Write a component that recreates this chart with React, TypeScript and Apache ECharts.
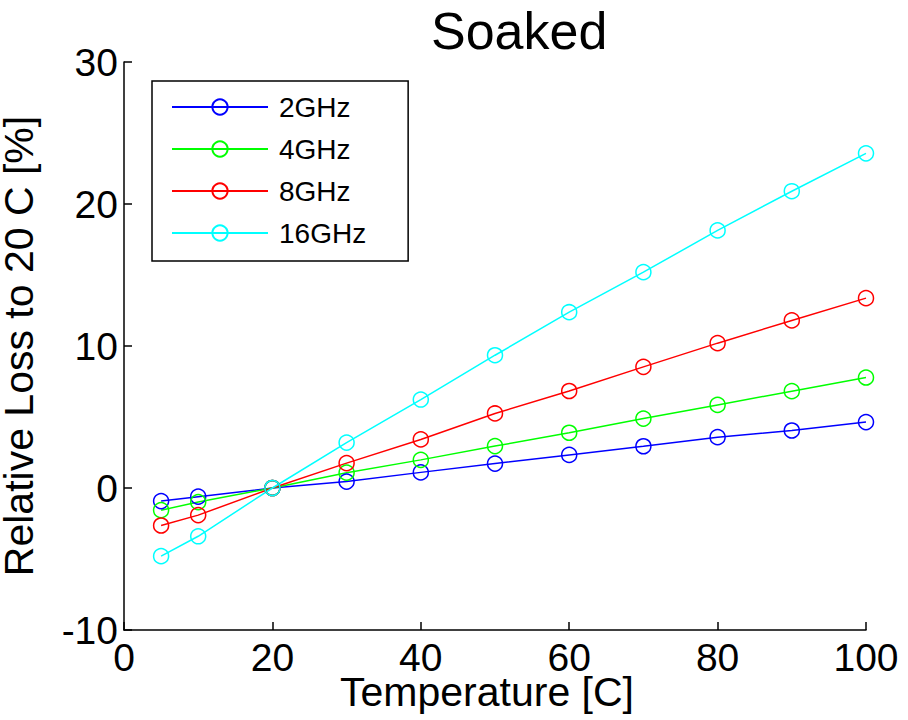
import React, { useEffect, useRef } from "react";
import * as echarts from "echarts";

const temperatures = [5, 10, 20, 30, 40, 50, 60, 70, 80, 90, 100];
const seriesNames = ["2GHz", "4GHz", "8GHz", "16GHz"];
const seriesColors = ["#0000ff", "#00ff00", "#ff0000", "#00ffff"];
const loss2GHz = [-0.92, -0.61, 0, 0.45, 1.1, 1.72, 2.33, 2.94, 3.58, 4.05, 4.64];
const loss4GHz = [-1.56, -0.99, 0, 1.08, 1.98, 2.95, 3.89, 4.89, 5.85, 6.82, 7.78];
const loss8GHz = [-2.64, -1.91, 0, 1.75, 3.42, 5.25, 6.83, 8.53, 10.2, 11.8, 13.37];
const loss16GHz = [-4.8, -3.4, 0, 3.2, 6.23, 9.35, 12.38, 15.2, 18.14, 20.9, 23.57];
const seriesValues = [loss2GHz, loss4GHz, loss8GHz, loss16GHz];

const FONT = '"Liberation Sans", Arial, Helvetica, sans-serif';

export default function App() {
  const ref = useRef<HTMLDivElement>(null);
  useEffect(() => {
    if (!ref.current) return;
    const chart = echarts.init(ref.current, undefined, { renderer: "svg" });
    chart.setOption({
      animation: false,
      backgroundColor: "#ffffff",
      textStyle: { fontFamily: FONT, color: "#000" },
      title: {
        text: "Soaked",
        left: 431,
        top: 5,
        padding: 0,
        textStyle: { fontFamily: FONT, fontSize: 52, fontWeight: "normal", color: "#000" },
      },
      legend: {
        orient: "vertical",
        left: 152,
        top: 81,
        padding: [12, 42, 14, 19],
        itemGap: 14,
        itemWidth: 96,
        itemHeight: 19,
        borderColor: "#000",
        borderWidth: 1.5,
        backgroundColor: "#fff",
        textStyle: { fontFamily: FONT, fontSize: 28, color: "#000", padding: [0, 0, 0, 6] },
        data: seriesNames,
      },
      grid: { left: 124, right: 42, top: 62, bottom: 90, outerBoundsMode: "none", containLabel: false },
      xAxis: {
        type: "value",
        min: 0,
        max: 100,
        interval: 20,
        name: "Temperature [C]",
        nameLocation: "middle",
        nameGap: 45,
        nameMoveOverlap: false,
        nameTextStyle: { fontFamily: FONT, fontSize: 41, lineHeight: 34, color: "#000", padding: [0, 16, 0, 0] },
        axisLine: { show: true, onZero: false, lineStyle: { color: "#000", width: 1.5 } },
        axisTick: { show: true, inside: true, length: 8, lineStyle: { color: "#000", width: 1.5 } },
        axisLabel: { fontFamily: FONT, fontSize: 39, lineHeight: 34, color: "#000", margin: 10 },
        splitLine: { show: false },
      },
      yAxis: {
        type: "value",
        min: -10,
        max: 30,
        interval: 10,
        name: "Relative Loss to 20 C [%]",
        nameLocation: "middle",
        nameGap: 88,
        nameMoveOverlap: false,
        nameTextStyle: { fontFamily: FONT, fontSize: 41, lineHeight: 34, color: "#000" },
        axisLine: { show: true, onZero: false, lineStyle: { color: "#000", width: 1.5 } },
        axisTick: { show: true, inside: true, length: 8, lineStyle: { color: "#000", width: 1.5 } },
        axisLabel: { fontFamily: FONT, fontSize: 39, color: "#000", margin: 6 },
        splitLine: { show: false },
      },
      series: seriesNames.map((name, i) => ({
        name,
        type: "line",
        data: temperatures.map((t, j) => [t, seriesValues[i][j]]),
        symbol: "circle",
        symbolSize: 15,
        showSymbol: true,
        lineStyle: { color: seriesColors[i], width: 1.5 },
        itemStyle: { color: "rgba(255,255,255,0)", borderColor: seriesColors[i], borderWidth: 1.5 },
        emphasis: { disabled: true },
      })),
    });
    return () => chart.dispose();
  }, []);
  return (
    <div
      ref={ref}
      style={{ position: "fixed", left: 0, top: 0, width: 908, height: 720 }}
    />
  );
}
